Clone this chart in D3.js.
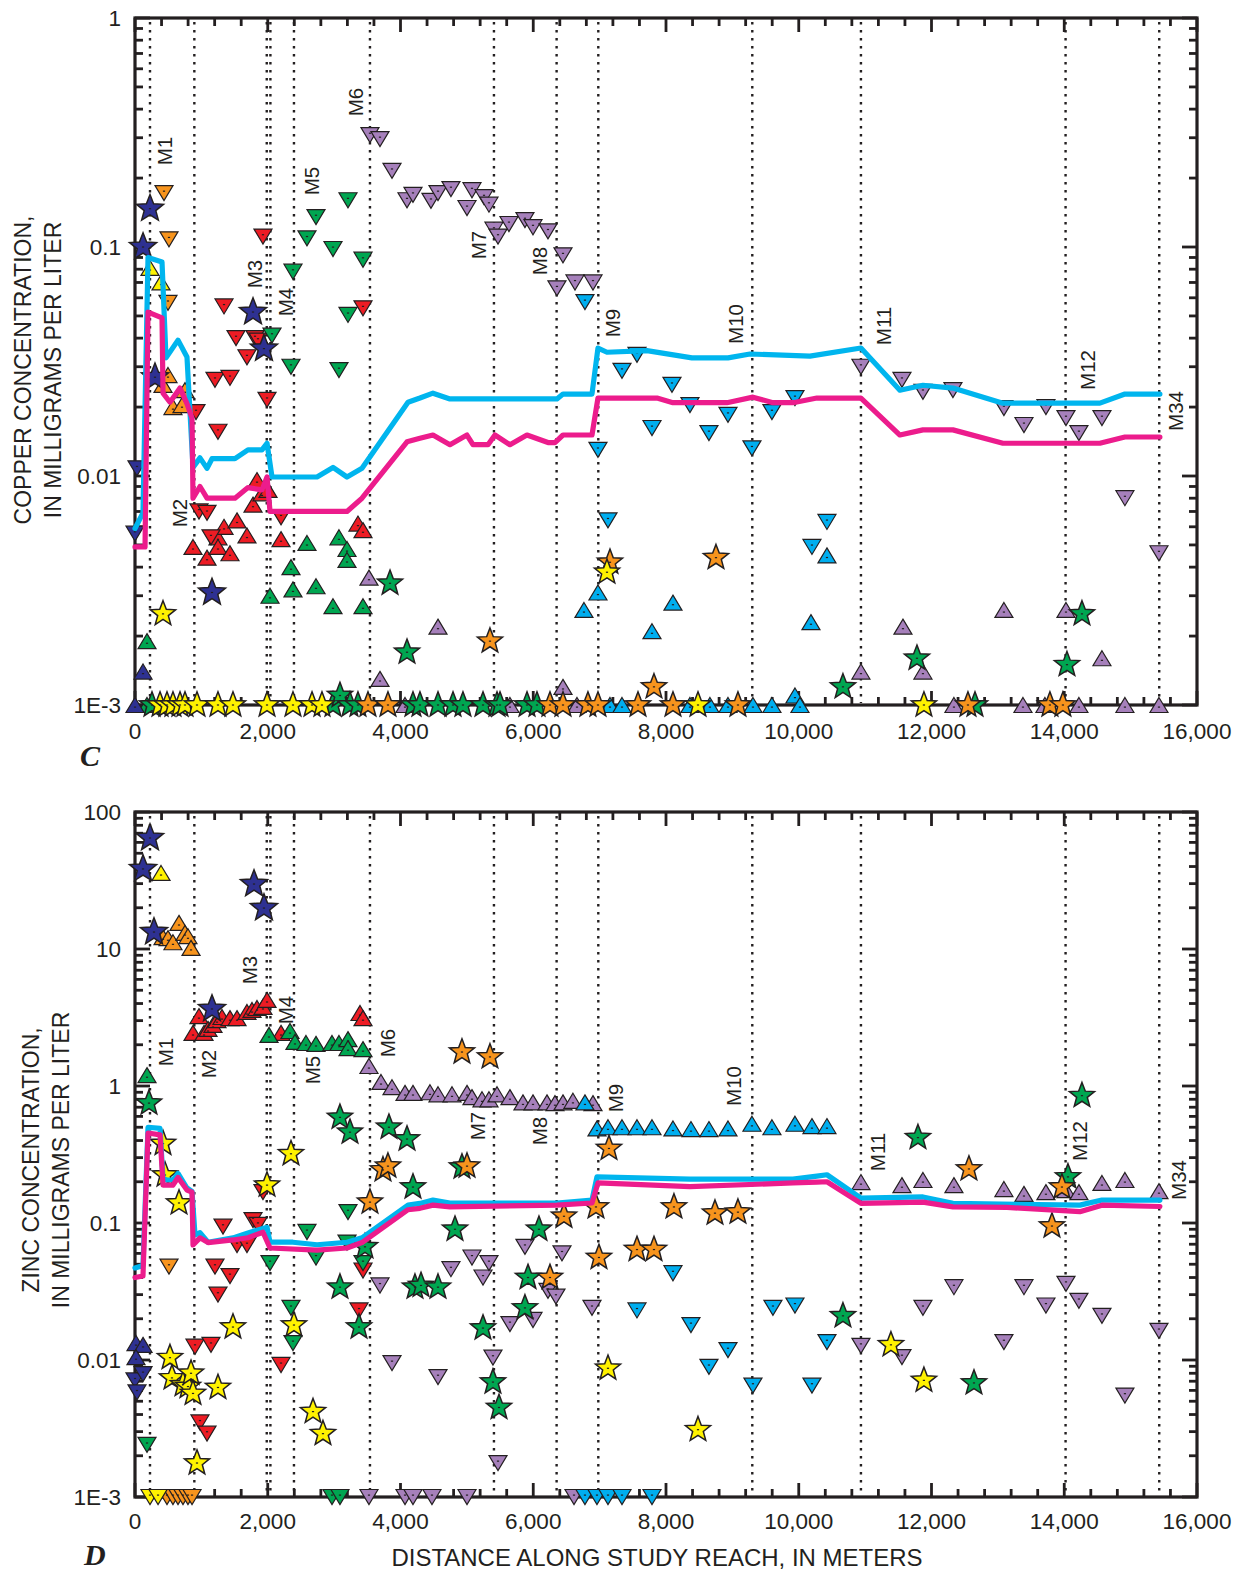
<!DOCTYPE html>
<html>
<head>
<meta charset="utf-8">
<script src="https://cdn.jsdelivr.net/npm/d3@7"></script>
<style>
  body { margin: 0; background: #fff; }
  svg text { font-family: "Liberation Sans", Arial, Helvetica, sans-serif; fill: #231f20; }
</style>
</head>
<body>
<svg id="chart" width="1234" height="1573"></svg>
<script>
// ---------------- Data: distance along reach (m), concentration (mg/L) ----------------
const siteNames = ["M1","M2","M3","M4","M5","M6","M7","M8","M9","M10","M11","M12","M34"];
const siteDist  = [226, 894, 1985, 2040, 2395, 3540, 5408, 6352, 6980, 9300, 10937, 14020, 15431];

const xTickValues = [0,2000,4000,6000,8000,10000,12000,14000,16000];
const xTickLabels = ["0","2,000","4,000","6,000","8,000","10,000","12,000","14,000","16,000"];
const cuTickValues = [0.001,0.01,0.1,1];
const cuTickLabels = ["1E-3","0.01","0.1","1"];
const znTickValues = [0.001,0.01,0.1,1,10,100];
const znTickLabels = ["1E-3","0.01","0.1","1","10","100"];

// Copper — simulated profiles
const cuCyanLine = [[0,0.0059],[120,0.0069],[196,0.090],[407,0.086],[467,0.0328],[648,0.0392],[783,0.0331],[874,0.0109],[979,0.0120],[1085,0.0108],[1160,0.0119],[1506,0.0119],[1702,0.0130],[1913,0.0130],[1989,0.0139],[2064,0.0099],[2742,0.0099],[2983,0.0109],[3194,0.0099],[3420,0.0108],[4113,0.0210],[4293,0.0219],[4489,0.0230],[4745,0.0217],[6357,0.0217],[6448,0.0228],[6885,0.0228],[6975,0.0362],[7111,0.0347],[7713,0.0353],[8391,0.0328],[8934,0.0328],[9265,0.0341],[10169,0.0334],[10937,0.0362],[11524,0.0237],[11871,0.0249],[12323,0.0242],[13076,0.0208],[14537,0.0208],[14914,0.0228],[15441,0.0228]];
const cuMagentaLine = [[0,0.0049],[151,0.0049],[196,0.052],[407,0.049],[422,0.023],[527,0.021],[678,0.0242],[783,0.0207],[859,0.0179],[874,0.0080],[979,0.0090],[1085,0.0080],[1506,0.0080],[1702,0.0089],[1913,0.0087],[1989,0.0099],[2034,0.0070],[3194,0.0070],[3420,0.0080],[4098,0.0141],[4293,0.0146],[4489,0.0151],[4745,0.0137],[5001,0.0151],[5092,0.0137],[5318,0.0137],[5423,0.0151],[5649,0.0137],[5905,0.0151],[6222,0.0140],[6327,0.0140],[6448,0.0151],[6885,0.0151],[6975,0.0219],[7864,0.0219],[8105,0.0209],[8918,0.0209],[9310,0.0221],[9611,0.0209],[9913,0.0209],[10274,0.0219],[10937,0.0219],[11524,0.0151],[11871,0.0159],[12323,0.0159],[13076,0.0139],[14537,0.0139],[14914,0.0148],[15441,0.0148]];

// Copper — observations
const cuNavyStar = [[121,0.100],[226,0.147],[301,0.027],[1160,0.0031],[1778,0.052],[1943,0.036]];
const cuNavyUp = [[0,0.001],[121,0.0014]];
const cuNavyDown = [[0,0.0056],[30,0.0108]];
const cuYellowUp = [[226,0.081],[392,0.070]];
const cuYellowStar = [[377,0.001],[422,0.0025],[482,0.001],[572,0.001],[678,0.001],[753,0.001],[934,0.001],[1250,0.001],[1476,0.001],[1989,0.001],[2380,0.001],[2667,0.001],[2817,0.001],[7111,0.0038],[8482,0.001],[11886,0.001]];
const cuOrangeDown = [[437,0.172],[497,0.057],[512,0.108]];
const cuOrangeUp = [[422,0.025],[497,0.0276],[572,0.020],[708,0.0204],[753,0.0237]];
const cuOrangeStar = [[3510,0.001],[3811,0.001],[5348,0.0019],[6252,0.001],[6448,0.001],[6824,0.001],[6975,0.001],[7156,0.0042],[7578,0.001],[7819,0.0012],[8105,0.001],[8753,0.0044],[9084,0.001],[12549,0.001],[13784,0.001],[13980,0.001]];
const cuRedDown = [[919,0.019],[964,0.0070],[1085,0.0069],[1145,0.0054],[1205,0.0263],[1250,0.0156],[1341,0.055],[1431,0.0268],[1522,0.040],[1687,0.033],[1808,0.040],[1853,0.039],[1928,0.111],[1989,0.0215],[2200,0.0066],[3435,0.054]];
const cuRedUp = [[874,0.0049],[1085,0.0044],[1250,0.0054],[1250,0.0049],[1341,0.0060],[1431,0.0046],[1537,0.0064],[1687,0.0055],[1778,0.0075],[1838,0.0096],[1913,0.0084],[2004,0.0087],[2200,0.0053],[3359,0.0062],[3435,0.0058]];
const cuGreenDown = [[2064,0.041],[2350,0.030],[2380,0.078],[2591,0.109],[2727,0.135],[2983,0.098],[3073,0.029],[3209,0.160],[3209,0.0505],[3435,0.088]];
const cuGreenUp = [[181,0.001],[181,0.0019],[2034,0.0030],[2350,0.0040],[2380,0.0032],[2591,0.0051],[2727,0.0033],[2983,0.0027],[3073,0.0054],[3194,0.0048],[3194,0.0043],[3435,0.0027]];
const cuGreenStar = [[256,0.001],[2983,0.001],[3088,0.0011],[3239,0.001],[3359,0.001],[3842,0.0034],[4098,0.0017],[4188,0.001],[4293,0.001],[4565,0.001],[4791,0.001],[4941,0.001],[5243,0.001],[5454,0.001],[5499,0.001],[5906,0.001],[6056,0.001],[10666,0.0012],[11781,0.0016],[12655,0.001],[14041,0.0015],[14267,0.0025]];
const cuPurpleDown = [[3540,0.308],[3691,0.296],[3872,0.215],[4098,0.160],[4188,0.169],[4459,0.159],[4565,0.172],[4760,0.179],[5002,0.148],[5077,0.177],[5258,0.165],[5333,0.153],[5408,0.119],[5469,0.111],[5634,0.126],[5875,0.131],[5996,0.122],[6222,0.117],[6357,0.066],[6448,0.092],[6629,0.070],[6900,0.070],[10937,0.030],[11555,0.0263],[11871,0.0233],[12323,0.0237],[13091,0.0198],[13393,0.0167],[13724,0.0200],[14026,0.0179],[14221,0.0154],[14568,0.0179],[14914,0.0080],[15427,0.0046]];
const cuPurpleUp = [[3525,0.0036],[3691,0.0013],[4068,0.001],[4565,0.0022],[5649,0.001],[6448,0.0012],[6659,0.001],[10937,0.0014],[11570,0.0022],[11871,0.0014],[12338,0.001],[13091,0.0026],[13378,0.001],[13709,0.001],[14026,0.0026],[14221,0.001],[14568,0.0016],[14914,0.001],[15427,0.001]];
const cuCyanDown = [[6779,0.0575],[6975,0.0130],[7126,0.0064],[7337,0.0288],[7563,0.0338],[7789,0.0162],[8090,0.0250],[8361,0.0204],[8647,0.0154],[8934,0.0185],[9295,0.0132],[9596,0.0190],[9943,0.0219],[10199,0.0049],[10425,0.0063]];
const cuCyanUp = [[6764,0.0026],[6975,0.0031],[7156,0.001],[7337,0.001],[7789,0.0021],[8105,0.0028],[8361,0.001],[8662,0.001],[8934,0.001],[9310,0.001],[9596,0.001],[9943,0.0011],[10018,0.001],[10184,0.0023],[10425,0.0045]];

// Zinc — simulated profiles
const znCyanLine = [[0,0.047],[120,0.049],[196,0.50],[377,0.49],[422,0.21],[482,0.206],[572,0.206],[648,0.23],[783,0.18],[859,0.17],[904,0.0817],[979,0.085],[1100,0.0724],[1476,0.0779],[1702,0.0846],[1989,0.0930],[2034,0.0724],[2380,0.0724],[2742,0.0694],[3194,0.0724],[3420,0.0779],[4113,0.135],[4293,0.139],[4489,0.147],[4745,0.140],[6357,0.140],[6885,0.147],[6960,0.217],[8361,0.209],[9913,0.209],[10274,0.22],[10425,0.225],[10937,0.152],[11871,0.155],[12323,0.139],[14236,0.135],[14568,0.147],[15441,0.147]];
const znMagentaLine = [[0,0.040],[120,0.041],[196,0.454],[377,0.44],[422,0.189],[572,0.189],[648,0.215],[783,0.174],[859,0.168],[874,0.0692],[979,0.0779],[1100,0.072],[1476,0.0752],[1702,0.078],[1928,0.0856],[2034,0.0657],[2742,0.0633],[3194,0.0657],[3420,0.072],[4113,0.125],[4293,0.128],[4489,0.135],[4745,0.131],[6357,0.135],[6885,0.140],[6975,0.196],[8361,0.184],[9913,0.196],[10274,0.199],[10425,0.20],[10937,0.139],[11871,0.142],[12323,0.131],[13137,0.13],[14236,0.121],[14568,0.135],[15441,0.132]];

// Zinc — observations
const znNavyStar = [[121,38.4],[226,64.6],[286,13.3],[1160,3.65],[1793,29.8],[1943,19.9]];
const znNavyUp = [[15,0.0133],[121,0.0129],[15,0.0105]];
const znNavyDown = [[0,0.0071],[30,0.0058],[121,0.0079]];
const znYellowUp = [[392,35.9]];
const znYellowDown = [[226,0.001],[347,0.001]];
const znYellowStar = [[422,0.38],[452,0.224],[527,0.0104],[557,0.0074],[663,0.140],[723,0.0066],[798,0.0064],[844,0.0080],[874,0.0057],[934,0.00177],[1250,0.0063],[1476,0.0174],[1989,0.189],[2350,0.32],[2395,0.018],[2682,0.0042],[2832,0.0029],[7126,0.0087],[8482,0.0031],[11389,0.0129],[11886,0.0071]];
const znOrangeUp = [[422,12.2],[497,12.0],[572,11.2],[663,15.5],[753,13.1],[798,12.4],[844,10.2]];
const znOrangeDown = [[482,0.001],[512,0.048],[572,0.001],[648,0.001],[723,0.001],[798,0.001],[859,0.001]];
const znOrangeStar = [[3540,0.142],[3736,0.244],[3811,0.26],[4926,1.77],[5002,0.26],[5348,1.63],[6252,0.040],[6463,0.112],[6945,0.131],[6990,0.056],[7141,0.35],[7563,0.064],[7819,0.064],[8120,0.131],[8738,0.118],[9084,0.120],[12564,0.248],[13815,0.095],[13965,0.183]];
const znRedUp = [[874,2.44],[964,3.24],[1040,2.44],[1100,2.61],[1175,2.79],[1235,3.03],[1311,3.19],[1431,3.13],[1537,3.13],[1687,3.47],[1763,3.59],[1838,3.71],[1928,3.78],[1989,4.25],[2200,2.44],[3390,3.41],[3435,3.13]];
const znRedDown = [[904,0.0125],[979,0.0035],[1085,0.0029],[1145,0.0129],[1205,0.048],[1250,0.030],[1326,0.094],[1431,0.041],[1537,0.069],[1687,0.069],[1778,0.105],[1853,0.097],[1928,0.168],[2200,0.0092],[3375,0.023],[3435,0.045]];
const znGreenUp = [[181,1.20],[2019,2.36],[2335,2.52],[2410,2.10],[2576,2.06],[2727,2.03],[2968,2.06],[3073,2.06],[3209,2.20],[3209,1.89],[3435,1.86]];
const znGreenDown = [[181,0.0024],[2034,0.051],[2350,0.024],[2380,0.0133],[2591,0.086],[2727,0.056],[2968,0.001],[3088,0.001],[3194,0.072],[3209,0.120],[3435,0.051]];
const znGreenStar = [[211,0.75],[3088,0.59],[3088,0.034],[3239,0.46],[3375,0.0174],[3465,0.067],[3826,0.50],[4098,0.41],[4188,0.183],[4218,0.034],[4309,0.035],[4565,0.034],[4821,0.090],[4926,0.256],[5243,0.0171],[5393,0.0069],[5484,0.0045],[5875,0.024],[5921,0.040],[6086,0.090],[10666,0.021],[11796,0.42],[12640,0.0068],[14056,0.217],[14267,0.85]];
const znPurpleUp = [[3525,1.40],[3706,1.07],[3872,0.98],[4068,0.89],[4188,0.89],[4444,0.90],[4565,0.87],[4776,0.87],[5002,0.89],[5077,0.83],[5228,0.80],[5333,0.80],[5454,0.87],[5649,0.83],[5845,0.76],[5996,0.76],[6207,0.76],[6327,0.75],[6448,0.76],[6598,0.78],[6900,0.75],[10937,0.199],[11555,0.189],[11871,0.206],[12338,0.189],[13091,0.177],[13393,0.163],[13724,0.168],[14026,0.174],[14221,0.168],[14568,0.196],[14914,0.206],[15427,0.171]];
const znPurpleDown = [[3525,0.001],[3691,0.035],[3872,0.0095],[4068,0.001],[4188,0.001],[4474,0.001],[4565,0.0075],[4760,0.046],[5002,0.001],[5077,0.056],[5243,0.040],[5333,0.051],[5393,0.0104],[5469,0.00177],[5649,0.0183],[5875,0.067],[5996,0.0196],[6222,0.032],[6342,0.029],[6433,0.060],[6614,0.001],[6885,0.024],[10937,0.0127],[11555,0.0105],[11871,0.024],[12338,0.034],[13091,0.0135],[13393,0.034],[13724,0.025],[14026,0.036],[14221,0.027],[14568,0.021],[14914,0.0055],[15427,0.0163]];
const znCyanUp = [[6779,0.76],[6960,0.49],[7126,0.50],[7337,0.50],[7563,0.50],[7789,0.50],[8105,0.49],[8376,0.485],[8647,0.485],[8934,0.49],[9295,0.53],[9596,0.50],[9943,0.53],[10199,0.51],[10425,0.51]];
const znCyanDown = [[6779,0.001],[6960,0.001],[7126,0.001],[7337,0.001],[7563,0.023],[7789,0.001],[8105,0.043],[8376,0.018],[8647,0.0089],[8934,0.0118],[9310,0.0065],[9611,0.024],[9943,0.025],[10199,0.0065],[10425,0.0135]];

// ---------------- Styling ----------------
const COL = {
  navy: "#2e3192", yellow: "#fff200", orange: "#f7941d", red: "#ed1c24",
  green: "#00a651", purple: "#a680bb", cyan: "#00aeef",
  lineCyan: "#00b5ee", lineMagenta: "#ec1c8c", ink: "#231f20"
};

const svg = d3.select("#chart");
const X0 = 135, X1 = 1197;
const x = d3.scaleLinear().domain([0, 16000]).range([X0, X1]);

// Marker path generators (centred on the data point)
function triUp(w, h) { return `M0,${-h/2}L${w/2},${h/2}L${-w/2},${h/2}Z`; }
function triDown(w, h) { return `M${-w/2},${-h/2}L${w/2},${-h/2}L0,${h/2}Z`; }
function star(R, r) {
  let p = "";
  for (let i = 0; i < 10; i++) {
    const rad = i % 2 === 0 ? R : r;
    const a = -Math.PI / 2 + i * Math.PI / 5;
    p += (i ? "L" : "M") + (rad * Math.cos(a)).toFixed(2) + "," + (rad * Math.sin(a)).toFixed(2);
  }
  return p + "Z";
}
const SHAPES = {
  up: triUp(18, 15),
  down: triDown(18, 15),
  star: star(13.2, 5.6),
  bigStar: star(14.2, 6.1)
};

const panelLayout = {
  cu: {
    top: 18, bottom: 705, domain: [0.001, 1],
    tickValues: cuTickValues, tickLabels: cuTickLabels,
    title: ["COPPER CONCENTRATION,", "IN MILLIGRAMS PER LITER"], titleX: [23, 53], titleY: 370,
    letter: "C", letterX: 80, letterY: 766, xLabelY: 739,
    siteLabel: [[14,151],[-15,513],[-12,274],[15,302],[18,181],[-14,102],[-15,245],[-17,261],[14,323],[-17,324],[23,326],[22,370],[16,411]],
    lines: [[cuCyanLine, COL.lineCyan], [cuMagentaLine, COL.lineMagenta]],
    series: [
      [cuRedUp, "up", COL.red], [cuRedDown, "down", COL.red],
      [cuGreenUp, "up", COL.green], [cuGreenDown, "down", COL.green],
      [cuPurpleUp, "up", COL.purple], [cuPurpleDown, "down", COL.purple],
      [cuCyanUp, "up", COL.cyan], [cuCyanDown, "down", COL.cyan],
      [cuOrangeUp, "up", COL.orange], [cuOrangeDown, "down", COL.orange],
      [cuYellowUp, "up", COL.yellow],
      [cuNavyUp, "up", COL.navy], [cuNavyDown, "down", COL.navy],
      [cuGreenStar, "star", COL.green], [cuOrangeStar, "star", COL.orange],
      [cuYellowStar, "star", COL.yellow], [cuNavyStar, "bigStar", COL.navy]
    ]
  },
  zn: {
    top: 812, bottom: 1497, domain: [0.001, 100],
    tickValues: znTickValues, tickLabels: znTickLabels,
    title: ["ZINC CONCENTRATION,", "IN MILLIGRAMS PER LITER"], titleX: [31, 61], titleY: 1160,
    letter: "D", letterX: 84, letterY: 1565, xLabelY: 1529,
    siteLabel: [[15,1052],[14,1064],[-17,970],[15,1010],[19,1070],[18,1043],[-16,1126],[-17,1131],[17,1098],[-19,1086],[17,1152],[14,1141],[19,1180]],
    lines: [[znCyanLine, COL.lineCyan], [znMagentaLine, COL.lineMagenta]],
    series: [
      [znRedUp, "up", COL.red], [znRedDown, "down", COL.red],
      [znGreenUp, "up", COL.green], [znGreenDown, "down", COL.green],
      [znPurpleUp, "up", COL.purple], [znPurpleDown, "down", COL.purple],
      [znCyanUp, "up", COL.cyan], [znCyanDown, "down", COL.cyan],
      [znOrangeUp, "up", COL.orange], [znOrangeDown, "down", COL.orange],
      [znYellowUp, "up", COL.yellow], [znYellowDown, "down", COL.yellow],
      [znNavyUp, "up", COL.navy], [znNavyDown, "down", COL.navy],
      [znGreenStar, "star", COL.green], [znOrangeStar, "star", COL.orange],
      [znYellowStar, "star", COL.yellow], [znNavyStar, "bigStar", COL.navy]
    ]
  }
};

function drawPanel(P) {
  const y = d3.scaleLog().domain(P.domain).range([P.bottom, P.top]);
  const g = svg.append("g");

  // Station reference lines (dotted)
  g.append("g").selectAll("line").data(siteDist).join("line")
    .attr("x1", d => x(d)).attr("x2", d => x(d))
    .attr("y1", P.top + 4).attr("y2", P.bottom - 2)
    .attr("stroke", COL.ink).attr("stroke-width", 2.4)
    .attr("stroke-dasharray", "2.4,5.6");

  // Station labels
  g.append("g").selectAll("text").data(siteNames).join("text")
    .attr("transform", (d, i) => `translate(${x(siteDist[i]) + P.siteLabel[i][0]},${P.siteLabel[i][1]}) rotate(-90)`)
    .attr("text-anchor", "middle").attr("dominant-baseline", "central")
    .attr("font-size", 20.5).text(d => d);

  // Frame
  g.append("rect").attr("x", X0).attr("y", P.top).attr("width", X1 - X0).attr("height", P.bottom - P.top)
    .attr("fill", "none").attr("stroke", COL.ink).attr("stroke-width", 3.2);

  // X ticks on top and bottom edges (pointing inward)
  const xMinor = d3.range(0, 16001, 400);
  const tk = g.append("g").attr("stroke", COL.ink).attr("stroke-width", 2.8);
  xMinor.forEach(v => {
    const major = v % 2000 === 0;
    const len = major ? 14 : 8;
    tk.append("line").attr("x1", x(v)).attr("x2", x(v)).attr("y1", P.top).attr("y2", P.top + len);
    tk.append("line").attr("x1", x(v)).attr("x2", x(v)).attr("y1", P.bottom).attr("y2", P.bottom - len);
  });
  // Y ticks, log decades with minor steps, both sides
  const k0 = Math.round(Math.log10(P.domain[0])), k1 = Math.round(Math.log10(P.domain[1]));
  for (let k = k0; k <= k1; k++) {
    for (let m = 1; m <= 9; m++) {
      const v = m * Math.pow(10, k);
      if (v > P.domain[1] * 1.0001) break;
      const len = m === 1 ? 15 : 8;
      tk.append("line").attr("x1", X0).attr("x2", X0 + len).attr("y1", y(v)).attr("y2", y(v));
      tk.append("line").attr("x1", X1).attr("x2", X1 - len).attr("y1", y(v)).attr("y2", y(v));
    }
  }

  // Axis tick labels
  g.append("g").selectAll("text").data(P.tickValues).join("text")
    .attr("x", 121).attr("y", d => y(d)).attr("text-anchor", "end")
    .attr("dominant-baseline", "central").attr("font-size", 22.5)
    .text((d, i) => P.tickLabels[i]);
  g.append("g").selectAll("text").data(xTickValues).join("text")
    .attr("x", d => x(d)).attr("y", P.xLabelY).attr("text-anchor", "middle")
    .attr("font-size", 22.5).text((d, i) => xTickLabels[i]);

  // Y axis title (two lines)
  P.title.forEach((t, i) => {
    g.append("text")
      .attr("transform", `translate(${P.titleX[i]},${P.titleY}) rotate(-90)`)
      .attr("text-anchor", "middle").attr("dominant-baseline", "central")
      .attr("font-size", 23).text(t);
  });

  // Panel letter
  g.append("text").attr("x", P.letterX).attr("y", P.letterY)
    .style("font-family", '"Liberation Serif","Times New Roman",serif')
    .attr("font-style", "italic").attr("font-weight", "bold")
    .attr("font-size", 30).text(P.letter);

  // Observations
  const mk = g.append("g");
  P.series.forEach(([data, shape, color]) => {
    const s = mk.append("g");
    s.selectAll("path").data(data).join("path")
      .attr("transform", d => `translate(${x(d[0])},${y(d[1])})`)
      .attr("d", SHAPES[shape]).attr("fill", color)
      .attr("stroke", COL.ink).attr("stroke-width", shape === "bigStar" || shape === "star" ? 1.5 : 1.2)
      .attr("stroke-linejoin", "miter");
    s.selectAll("rect").data(data).join("rect")
      .attr("x", d => x(d[0]) - 1.1).attr("y", d => y(d[1]) + (shape === "up" ? 1.5 : shape === "down" ? -2.5 : -0.6))
      .attr("width", 2.2).attr("height", 1.2).attr("fill", COL.ink);
  });

  // Simulated profiles
  const line = d3.line().x(d => x(d[0])).y(d => y(d[1])).curve(d3.curveLinear);
  P.lines.forEach(([data, color]) => {
    g.append("path").datum(data).attr("d", line)
      .attr("fill", "none").attr("stroke", color).attr("stroke-width", 5.2)
      .attr("stroke-linejoin", "round").attr("stroke-linecap", "round");
  });
}

drawPanel(panelLayout.cu);
drawPanel(panelLayout.zn);

// Shared x-axis title
svg.append("text").attr("x", 657).attr("y", 1566).attr("text-anchor", "middle")
  .attr("font-size", 24).text("DISTANCE ALONG STUDY REACH, IN METERS");
</script>
</body>
</html>
